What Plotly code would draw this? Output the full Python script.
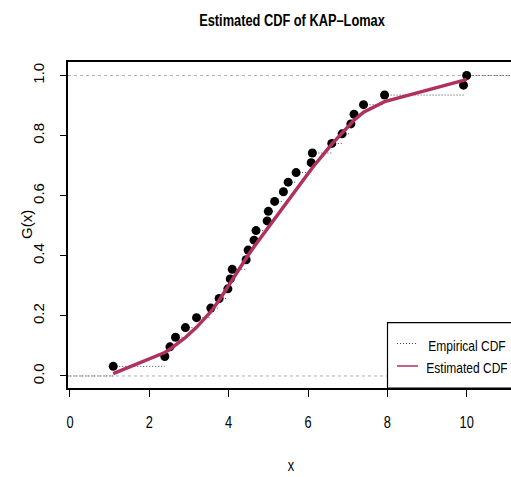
import plotly.graph_objects as go

# Sorted sample (x) and its empirical CDF heights
x_obs = [1.09, 2.39, 2.52, 2.66, 2.91, 3.19, 3.55, 3.76, 3.98, 4.04, 4.09,
         4.44, 4.49, 4.64, 4.69, 4.97, 5.00, 5.16, 5.38, 5.50, 5.70, 6.08,
         6.11, 6.60, 6.86, 7.08, 7.16, 7.40, 7.93, 9.92, 10.00]
ecdf_vals = [0.032, 0.065, 0.097, 0.129, 0.161, 0.194, 0.226, 0.258, 0.290,
             0.323, 0.355, 0.387, 0.419, 0.452, 0.484, 0.516, 0.548, 0.581,
             0.613, 0.645, 0.677, 0.710, 0.742, 0.774, 0.806, 0.839, 0.871,
             0.903, 0.935, 0.968, 1.000]
# Fitted KAP-Lomax CDF evaluated at the sample points
fitted_cdf = [0.008, 0.078, 0.089, 0.102, 0.128, 0.162, 0.214, 0.252, 0.298,
              0.309, 0.319, 0.392, 0.402, 0.430, 0.439, 0.492, 0.497, 0.526,
              0.565, 0.587, 0.622, 0.688, 0.693, 0.772, 0.810, 0.841, 0.851,
              0.878, 0.913, 0.984, 0.987]

x_ticks = [0, 2, 4, 6, 8, 10]
y_ticks = [0.0, 0.2, 0.4, 0.6, 0.8, 1.0]
y_tick_text = ["0.0", "0.2", "0.4", "0.6", "0.8", "1.0"]

X_RANGE = [-0.05, 11.117]
Y_RANGE = [-0.04, 1.045]

FONT = "Liberation Sans, Arial, Helvetica, sans-serif"
MAROON = "#B03060"
DOTTED = "1px,2px"

# Horizontal steps of the empirical CDF (each step runs to the next sample point)
step_x, step_y = [X_RANGE[0] - 1, x_obs[0], None], [0, 0, None]
for i, xv in enumerate(x_obs):
    x_next = x_obs[i + 1] if i + 1 < len(x_obs) else X_RANGE[1] + 1
    step_x += [xv, x_next, None]
    step_y += [ecdf_vals[i], ecdf_vals[i], None]

fig = go.Figure()

# Reference lines at 0 and 1
for level in (0, 1):
    fig.add_hline(y=level, line=dict(color="#b0b0b0", width=1, dash="3px,3px"), layer="below")

fig.add_trace(go.Scatter(x=step_x, y=step_y, mode="lines",
                         line=dict(color="#444444", width=1, dash=DOTTED),
                         showlegend=False, hoverinfo="skip"))
fig.add_trace(go.Scatter(x=x_obs, y=ecdf_vals, mode="markers",
                         marker=dict(color="black", size=9),
                         showlegend=False))
fig.add_trace(go.Scatter(x=x_obs, y=fitted_cdf, mode="lines",
                         line=dict(color=MAROON, width=3.5),
                         showlegend=False))

fig.update_xaxes(range=X_RANGE, tickvals=x_ticks, ticks="outside", ticklen=7,
                 tickwidth=1, tickcolor="black", showline=True, mirror=True,
                 linecolor="black", linewidth=1.5, showgrid=False, zeroline=False,
                 tickfont=dict(family=FONT, size=16, color="black"),
                 ticklabelstandoff=12)
fig.update_yaxes(range=Y_RANGE, tickvals=y_ticks, ticktext=y_tick_text,
                 ticks="outside", ticklen=6, tickwidth=1, tickcolor="black",
                 showline=True, mirror=False, linecolor="black", linewidth=1.5,
                 showgrid=False, zeroline=False, tickangle=-90,
                 tickfont=dict(family=FONT, size=15, color="black"),
                 ticklabelstandoff=10)

W, H = 511, 477
L, T, B = 68, 62, 89
plot_w, plot_h = W - L, H - T - B


def px_x(p):
    return (p - L) / plot_w


def px_y(p):
    return (H - B - p) / plot_h


# Legend box in the bottom-right corner
fig.add_shape(type="rect", xref="paper", yref="paper",
              x0=px_x(387.5), x1=1.05, y0=0, y1=px_y(322.7),
              line=dict(color="black", width=1.2), fillcolor="white", layer="above")
fig.add_shape(type="line", xref="paper", yref="paper",
              x0=px_x(397), x1=px_x(416), y0=px_y(343.5), y1=px_y(343.5),
              line=dict(color="#444444", width=1, dash=DOTTED))
fig.add_shape(type="line", xref="paper", yref="paper",
              x0=px_x(397), x1=px_x(418), y0=px_y(366), y1=px_y(366),
              line=dict(color=MAROON, width=1.5))
for label, yp in (("Empirical CDF", 345.5), ("Estimated CDF", 367.5)):
    fig.add_annotation(text=label, xref="paper", yref="paper",
                       x=px_x(467), y=px_y(yp), xanchor="center", yanchor="middle",
                       width=80, showarrow=False,
                       font=dict(family=FONT, size=15, color="black"))

# Title and axis titles
fig.add_annotation(text="<b>Estimated CDF of KAP\u2013Lomax</b>", xref="paper", yref="paper",
                   x=px_x(292), y=px_y(20), xanchor="center", yanchor="middle",
                   showarrow=False, font=dict(family=FONT, size=16, color="black"))
fig.add_annotation(text="x", xref="paper", yref="paper",
                   x=px_x(291), y=px_y(465), xanchor="center", yanchor="middle",
                   showarrow=False, font=dict(family=FONT, size=16, color="black"))
fig.add_annotation(text="G(x)", xref="paper", yref="paper",
                   x=px_x(26), y=px_y(225), xanchor="center", yanchor="middle",
                   textangle=-90, showarrow=False,
                   font=dict(family=FONT, size=15, color="black"))

fig.update_layout(width=W, height=H, margin=dict(l=L, r=0, t=T, b=B),
                  plot_bgcolor="white", paper_bgcolor="white", showlegend=False)

# Horizontal text is set in a narrowed face: compress each non-rotated label
# to 80% of its natural advance width (centred labels keep their centre).
condense_js = """
(function () {
  var gd = document.getElementById('{plot_id}');
  if (!gd) { return; }
  function condense() {
    gd.querySelectorAll('text').forEach(function (t) {
      if (t.closest('[transform*="rotate(-90"]') ||
          (t.getAttribute('transform') || '').indexOf('rotate(-90') >= 0) { return; }
      if (t.getAttribute('data-condensed')) { return; }
      var len = t.getComputedTextLength();
      if (!len) { return; }
      t.setAttribute('textLength', (len * 0.8).toFixed(2));
      t.setAttribute('lengthAdjust', 'spacingAndGlyphs');
      t.setAttribute('data-condensed', '1');
    });
  }
  condense();
  if (gd.on) { gd.on('plotly_afterplot', condense); }
})();
"""

fig.write_html("out.html", post_script=condense_js)
